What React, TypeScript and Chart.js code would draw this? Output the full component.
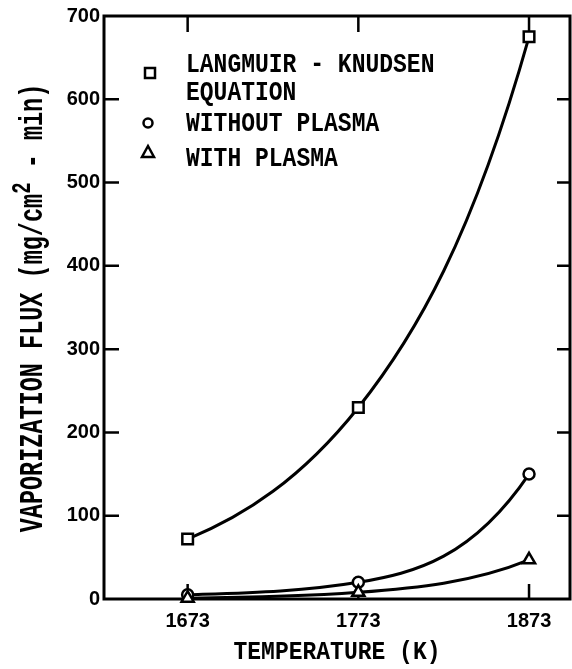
import React, { useEffect, useRef } from "react";
import { Chart, registerables } from "chart.js";

Chart.register(...registerables);

const temperatures = [1673, 1773, 1873];
const langmuirKnudsen = [72, 230, 675];
const withoutPlasma = [5, 20, 150];
const withPlasma = [1, 8, 47];

const xTickValues = [1673, 1773, 1873];
const yTickValues = [0, 100, 200, 300, 400, 500, 600, 700];

const legendLabels = [
  ["LANGMUIR - KNUDSEN", "EQUATION"],
  ["WITHOUT PLASMA"],
  ["WITH PLASMA"],
];

const xTitle = "TEMPERATURE (K)";
const yTitleParts = [
  { text: "VAPORIZATION FLUX (mg/cm", sup: false },
  { text: "2", sup: true },
  { text: " - min)", sup: false },
];

const toPoints = (vals: number[]) => temperatures.map((t, i) => ({ x: t, y: vals[i] }));

const MONO = "'Liberation Mono', 'Courier New', monospace";

// Smooth exponential-like curves: Hermite tangents from log-space slopes,
// converted to Bezier control points through the chart's scales.
const expCurvePlugin = {
  id: "expCurve",
  beforeDatasetDraw(chart: any, args: any) {
    const meta = chart.getDatasetMeta(args.index);
    const line = meta.dataset;
    const pts = meta.data;
    const vals = chart.data.datasets[args.index].data as { x: number; y: number }[];
    const xs = chart.scales.x;
    const ys = chart.scales.y;
    if (!line || !pts || pts.length !== vals.length || vals.length < 2) return;
    if (typeof line.updateControlPoints === "function") line.updateControlPoints(chart.chartArea, "x");
    const n = vals.length;
    const k: number[] = [];
    for (let i = 0; i < n - 1; i++) {
      k.push(Math.log(vals[i + 1].y / vals[i].y) / (vals[i + 1].x - vals[i].x));
    }
    const m = vals.map((v, i) => v.y * (i === 0 ? k[0] : i === n - 1 ? k[n - 2] : (k[i - 1] + k[i]) / 2));
    for (let i = 0; i < n; i++) {
      const p = pts[i];
      if (i > 0) {
        const h = vals[i].x - vals[i - 1].x;
        p.cp1x = xs.getPixelForValue(vals[i].x - h / 3);
        p.cp1y = ys.getPixelForValue(vals[i].y - (m[i] * h) / 3);
      }
      if (i < n - 1) {
        const h = vals[i + 1].x - vals[i].x;
        p.cp2x = xs.getPixelForValue(vals[i].x + h / 3);
        p.cp2y = ys.getPixelForValue(vals[i].y + (m[i] * h) / 3);
      }
    }
    line._path = undefined;
  },
};

const framePlugin = {
  id: "frame",
  beforeDatasetsDraw(chart: any) {
    const { ctx, chartArea, scales } = chart;
    const { left, right, top, bottom } = chartArea;
    ctx.save();
    ctx.strokeStyle = "#000";
    ctx.lineWidth = 3;
    ctx.strokeRect(left, top, right - left, bottom - top);
    ctx.lineWidth = 2.5;
    ctx.beginPath();
    for (const v of yTickValues) {
      if (v === 0 || v === 700) continue;
      const py = scales.y.getPixelForValue(v);
      ctx.moveTo(left, py);
      ctx.lineTo(left + 15, py);
      ctx.moveTo(right - 13, py);
      ctx.lineTo(right, py);
    }
    for (const v of xTickValues) {
      const px = scales.x.getPixelForValue(v);
      ctx.moveTo(px, top);
      ctx.lineTo(px, top + 16);
      ctx.moveTo(px, bottom);
      ctx.lineTo(px, bottom - 15);
    }
    ctx.stroke();
    ctx.restore();
  },
};

const textPlugin = {
  id: "texts",
  afterDraw(chart: any) {
    const { ctx, chartArea } = chart;
    ctx.save();
    ctx.fillStyle = "#000";
    ctx.strokeStyle = "#000";
    ctx.textBaseline = "alphabetic";

    // Legend
    ctx.font = `bold 23px ${MONO}`;
    ctx.textAlign = "left";
    const textX = 186;
    const baselines = [[72, 100], [131], [166]];
    legendLabels.forEach((lines, i) => {
      lines.forEach((line, j) => {
        ctx.save();
        ctx.translate(textX, baselines[i][j]);
        ctx.scale(1, 1.2);
        ctx.fillText(line, 0, 0);
        ctx.restore();
      });
    });
    ctx.lineWidth = 2.5;
    ctx.strokeRect(145, 68, 10, 10);
    ctx.beginPath();
    ctx.arc(148, 123, 4.5, 0, Math.PI * 2);
    ctx.stroke();
    ctx.beginPath();
    ctx.moveTo(148, 146);
    ctx.lineTo(154, 157);
    ctx.lineTo(142, 157);
    ctx.closePath();
    ctx.stroke();

    // X title
    const cx = (chartArea.left + chartArea.right) / 2;
    ctx.save();
    ctx.font = `bold 23px ${MONO}`;
    ctx.textAlign = "center";
    ctx.translate(cx, 659);
    ctx.scale(1, 1.15);
    ctx.fillText(xTitle, 0, 0);
    ctx.restore();

    // Y title (rotated)
    const mainFont = `bold 23.5px ${MONO}`;
    const supFont = `bold 19px ${MONO}`;
    const widths = yTitleParts.map((p) => {
      ctx.font = p.sup ? supFont : mainFont;
      return ctx.measureText(p.text).width;
    });
    const total = widths.reduce((a, b) => a + b, 0);
    ctx.save();
    ctx.translate(42, 308);
    ctx.rotate(-Math.PI / 2);
    ctx.scale(1, 1.45);
    ctx.textAlign = "left";
    let pos = -total / 2;
    yTitleParts.forEach((p, i) => {
      ctx.font = p.sup ? supFont : mainFont;
      ctx.fillText(p.text, pos, p.sup ? -8 : 0);
      pos += widths[i];
    });
    ctx.restore();

    ctx.restore();
  },
};

export default function App() {
  const canvasRef = useRef<HTMLCanvasElement | null>(null);

  useEffect(() => {
    if (!canvasRef.current) return;
    const common = {
      borderColor: "#000",
      borderWidth: 3,
      pointBackgroundColor: "#fff",
      pointBorderColor: "#000",
      pointBorderWidth: 2.5,
      cubicInterpolationMode: "monotone" as const,
      fill: false,
      clip: false as any,
    };
    const chart = new Chart(canvasRef.current, {
      type: "line",
      data: {
        datasets: [
          {
            ...common,
            label: "LANGMUIR - KNUDSEN EQUATION",
            data: toPoints(langmuirKnudsen),
            pointStyle: "rect",
            pointRadius: 7.5,
          },
          {
            ...common,
            label: "WITH PLASMA",
            data: toPoints(withPlasma),
            pointStyle: "triangle",
            pointRadius: 7,
          },
          {
            ...common,
            label: "WITHOUT PLASMA",
            data: toPoints(withoutPlasma),
            pointStyle: "circle",
            pointRadius: 5.5,
          },
        ],
      },
      options: {
        animation: false,
        responsive: false,
        devicePixelRatio: 1,
        layout: { autoPadding: false, padding: { top: 16, right: 2, left: 0, bottom: 0 } },
        plugins: {
          legend: { display: false },
          tooltip: { enabled: false },
        },
        scales: {
          x: {
            type: "linear",
            min: 1624,
            max: 1897,
            afterBuildTicks: (scale: any) => {
              scale.ticks = xTickValues.map((v) => ({ value: v }));
            },
            afterFit: (scale: any) => {
              scale.height = 70;
              scale.paddingLeft = 0;
              scale.paddingRight = 0;
            },
            grid: { display: false, drawTicks: false },
            border: { display: false },
            ticks: {
              color: "#000",
              font: { family: "'Liberation Sans'", weight: "bold", size: 20 },
              padding: 10,
              maxRotation: 0,
              callback: (v: any) => String(v),
            },
            title: { display: false },
          },
          y: {
            type: "linear",
            min: 0,
            max: 700,
            afterBuildTicks: (scale: any) => {
              scale.ticks = yTickValues.map((v) => ({ value: v }));
            },
            afterFit: (scale: any) => {
              scale.width = 104;
            },
            grid: { display: false, drawTicks: false },
            border: { display: false },
            ticks: {
              color: "#000",
              font: { family: "'Liberation Sans'", weight: "bold", size: 20 },
              padding: 4,
              callback: (v: any) => String(v),
            },
            title: { display: false },
          },
        },
      },
      plugins: [framePlugin, expCurvePlugin, textPlugin],
    });
    return () => chart.destroy();
  }, []);

  return (
    <div style={{ position: "fixed", left: 0, top: 0, width: 572, height: 669, background: "#fff" }}>
      <canvas ref={canvasRef} width={572} height={669} style={{ width: 572, height: 669, display: "block" }} />
    </div>
  );
}
